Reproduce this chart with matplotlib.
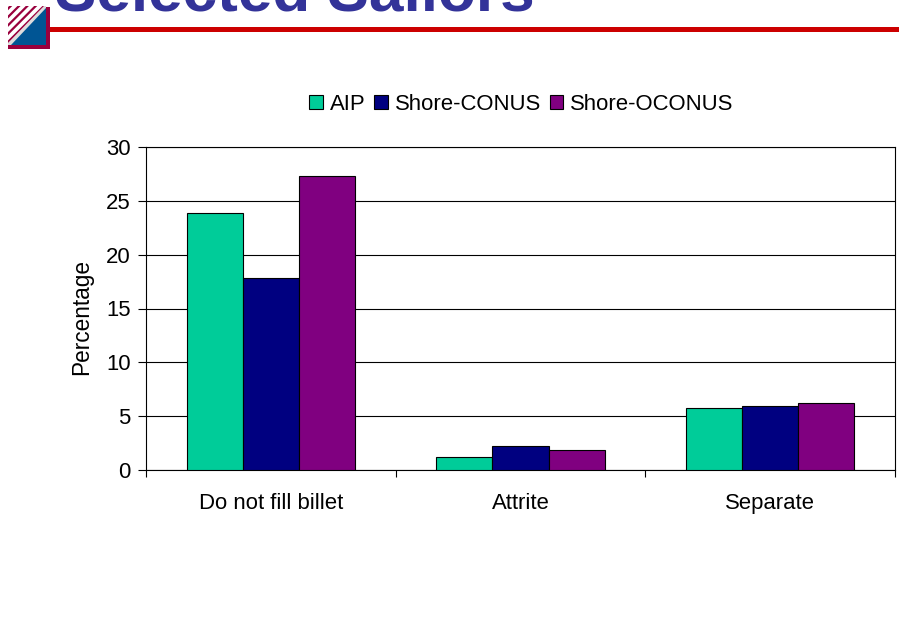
import matplotlib
matplotlib.use("Agg")
import matplotlib.pyplot as plt
from matplotlib.patches import Polygon, Rectangle
import numpy as np

plt.rcParams['font.family'] = ['Liberation Sans', 'DejaVu Sans']
plt.rcParams['hatch.linewidth'] = 1.6

categories = ["Do not fill billet", "Attrite", "Separate"]
aip = [23.9, 1.2, 5.8]
shore_conus = [17.8, 2.2, 5.9]
shore_oconus = [27.3, 1.9, 6.2]
y_ticks = [0, 5, 10, 15, 20, 25, 30]

W, H = 899, 622
fig = plt.figure(figsize=(W / 100, H / 100), dpi=100)

# slide furniture, in pixel coordinates
bg = fig.add_axes([0, 0, 1, 1])
bg.set_xlim(0, W)
bg.set_ylim(H, 0)
bg.axis("off")
bg.add_patch(Rectangle((48, 27), W - 48, 4.5, color="#cc0000", lw=0))
bg.add_patch(Rectangle((8, 7), 42, 42, color="#99003d", lw=0))
bg.add_patch(Rectangle((8, 6), 38, 39, color="#dddddd", lw=0))
bg.add_patch(Polygon([(11, 45), (46, 8), (46, 45)], color="#005594", lw=0))
bg.add_patch(Polygon([(8, 43), (8, 6), (44, 6)], facecolor="white", edgecolor="#99003d",
                     hatch="////", lw=0))
fig.text(55 / W, 1 - 10.5 / H, "Selected Sailors", fontsize=44.7, fontweight="bold",
         color="#333399", ha="left", va="baseline")

ax = fig.add_axes([146 / W, 1 - 470 / H, (895 - 146) / W, (470 - 147) / H])
x = np.arange(len(categories))
bar_w = 0.2243
ax.bar(x - bar_w, aip, bar_w, color="#00cc99", edgecolor="black", linewidth=0.8, label="AIP", zorder=3)
ax.bar(x, shore_conus, bar_w, color="#000080", edgecolor="black", linewidth=0.8, label="Shore-CONUS", zorder=3)
ax.bar(x + bar_w, shore_oconus, bar_w, color="#800080", edgecolor="black", linewidth=0.8, label="Shore-OCONUS", zorder=3)

ax.set_xlim(-0.5, 2.5)
ax.set_ylim(0, 30)
ax.set_yticks(y_ticks)
ax.set_xticks(x)
ax.set_xticklabels(categories)
ax.set_xticks([-0.5, 0.5, 1.5, 2.5], minor=True)
ax.tick_params(axis="x", which="major", length=0, pad=16.5, labelsize=15.9)
ax.tick_params(axis="x", which="minor", length=5, width=0.8)
ax.tick_params(axis="y", length=6, width=0.8, pad=5, labelsize=15.9)
ax.set_ylabel("Percentage", fontsize=16.3, labelpad=9.5, y=0.474)
ax.grid(axis="y", color="black", linewidth=0.8, zorder=0)
ax.set_axisbelow(True)
for s in ax.spines.values():
    s.set_linewidth(0.8)

ax.legend(loc="lower center", bbox_to_anchor=(0.5015, 1.099), ncol=3, frameon=False, fontsize=15.9,
          handlelength=0.62, handleheight=0.62, handletextpad=0.32, columnspacing=0.38, borderpad=0,
          borderaxespad=0)

fig.savefig("out.png", dpi=100)
